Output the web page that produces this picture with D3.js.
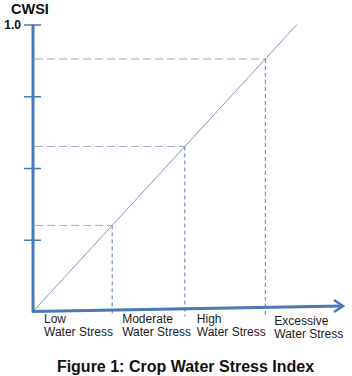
<!DOCTYPE html>
<html><head><meta charset="utf-8">
<script src="https://cdn.jsdelivr.net/npm/d3@7"></script>
<style>
html,body{margin:0;padding:0;background:#fff;}
svg{display:block;font-family:"Liberation Sans",Arial,sans-serif;}
</style></head>
<body>
<script>
// Data
const yTicks = [0.25, 0.5, 0.75, 1.0];
const yTickLabels = {"1": "1.0"};
const thresholds = [0.3, 0.575, 0.88];          // stress boundaries on the 1:1 line
const categoryStarts = [0, 0.3, 0.575, 0.88];
const categoryLine1 = ["Low", "Moderate", "High", "Excessive"];
const categoryLine2 = ["Water Stress", "Water Stress", "Water Stress", "Water Stress"];
const diagonal = [[0, 0], [1, 1]];
const yTitle = "CWSI";
const figTitle = "Figure 1: Crop Water Stress Index";

const W = 352, H = 376;
const svg = d3.select("body").append("svg").attr("width", W).attr("height", H);

const x = d3.scaleLinear().domain([0, 1]).range([33, 297]);
const y = d3.scaleLinear().domain([0, 1]).range([311.5, 24.5]);

const axisColor = "#4a78b4";
const dashH = "#9aaac4";
const dashV = "#5d7fb0";

// horizontal dashed guides
svg.selectAll(".hd").data(thresholds).enter().append("line")
  .attr("x1", x(0) + 2).attr("x2", d => x(d)).attr("y1", d => y(d)).attr("y2", d => y(d))
  .attr("stroke", dashH).attr("stroke-width", 1).attr("stroke-dasharray", "8,4");
// vertical dashed guides
svg.selectAll(".vd").data(thresholds).enter().append("line")
  .attr("x1", d => x(d)).attr("x2", d => x(d)).attr("y1", d => y(d)).attr("y2", y(0) + 5)
  .attr("stroke", dashV).attr("stroke-width", 1).attr("stroke-dasharray", "4,3");

// diagonal
svg.append("path").datum(diagonal)
  .attr("d", d3.line().x(d => x(d[0])).y(d => y(d[1])))
  .attr("stroke", "#8595c4").attr("stroke-width", 1).attr("fill", "none");

// y axis via d3 axis
const yAxis = d3.axisLeft(y).tickValues(yTicks).tickSize(0).tickFormat(d => yTickLabels[d] || "");
const gy = svg.append("g").attr("transform", `translate(${x(0)},0)`).call(yAxis);
gy.select(".domain").remove();
gy.selectAll(".tick line").remove();
gy.selectAll(".tick").append("line")
  .attr("x1", -9).attr("x2", 8).attr("stroke", axisColor).attr("stroke-width", 1.5);
gy.selectAll(".tick text").attr("x", -12).attr("dy", "0.32em")
  .attr("font-size", 12).attr("font-weight", "bold").attr("fill", "#111")
  .attr("font-family", "'Liberation Sans',Arial,sans-serif");
svg.append("line").attr("x1", x(0)).attr("x2", x(0)).attr("y1", y(1)).attr("y2", y(0) + 1)
  .attr("stroke", axisColor).attr("stroke-width", 3);

// x axis with arrow (slightly tilted as in original)
const xEnd = 343, yEnd = 306;
svg.append("line").attr("x1", x(0) - 1).attr("y1", y(0)).attr("x2", xEnd - 1).attr("y2", yEnd)
  .attr("stroke", axisColor).attr("stroke-width", 3);
svg.append("path")
  .attr("d", `M${xEnd - 9},${yEnd - 6} L${xEnd},${yEnd} L${xEnd - 9},${yEnd + 6}`)
  .attr("stroke", axisColor).attr("stroke-width", 2.5).attr("fill", "none")
  .attr("stroke-linejoin", "miter");

// y title
svg.append("text").attr("x", 11).attr("y", 14).text(yTitle)
  .attr("font-size", 14.5).attr("font-weight", "bold").attr("fill", "#111");

// category labels
const offsets = [11, 10, 12, 9];
const extraDy = [0, 0, 0, 1.5];
categoryStarts.forEach((c, i) => {
  const t = svg.append("text").attr("x", x(c) + offsets[i]).attr("y", 323 + extraDy[i])
    .attr("font-size", 12).attr("fill", "#1a1a1a");
  t.append("tspan").attr("x", x(c) + offsets[i]).text(categoryLine1[i]);
  t.append("tspan").attr("x", x(c) + offsets[i]).attr("dy", 13).text(categoryLine2[i]);
});

// figure title
svg.append("text").attr("x", 185.5).attr("y", 372).attr("text-anchor", "middle")
  .attr("font-size", 16).attr("font-weight", "bold").attr("fill", "#111").text(figTitle);
</script>
</body></html>
